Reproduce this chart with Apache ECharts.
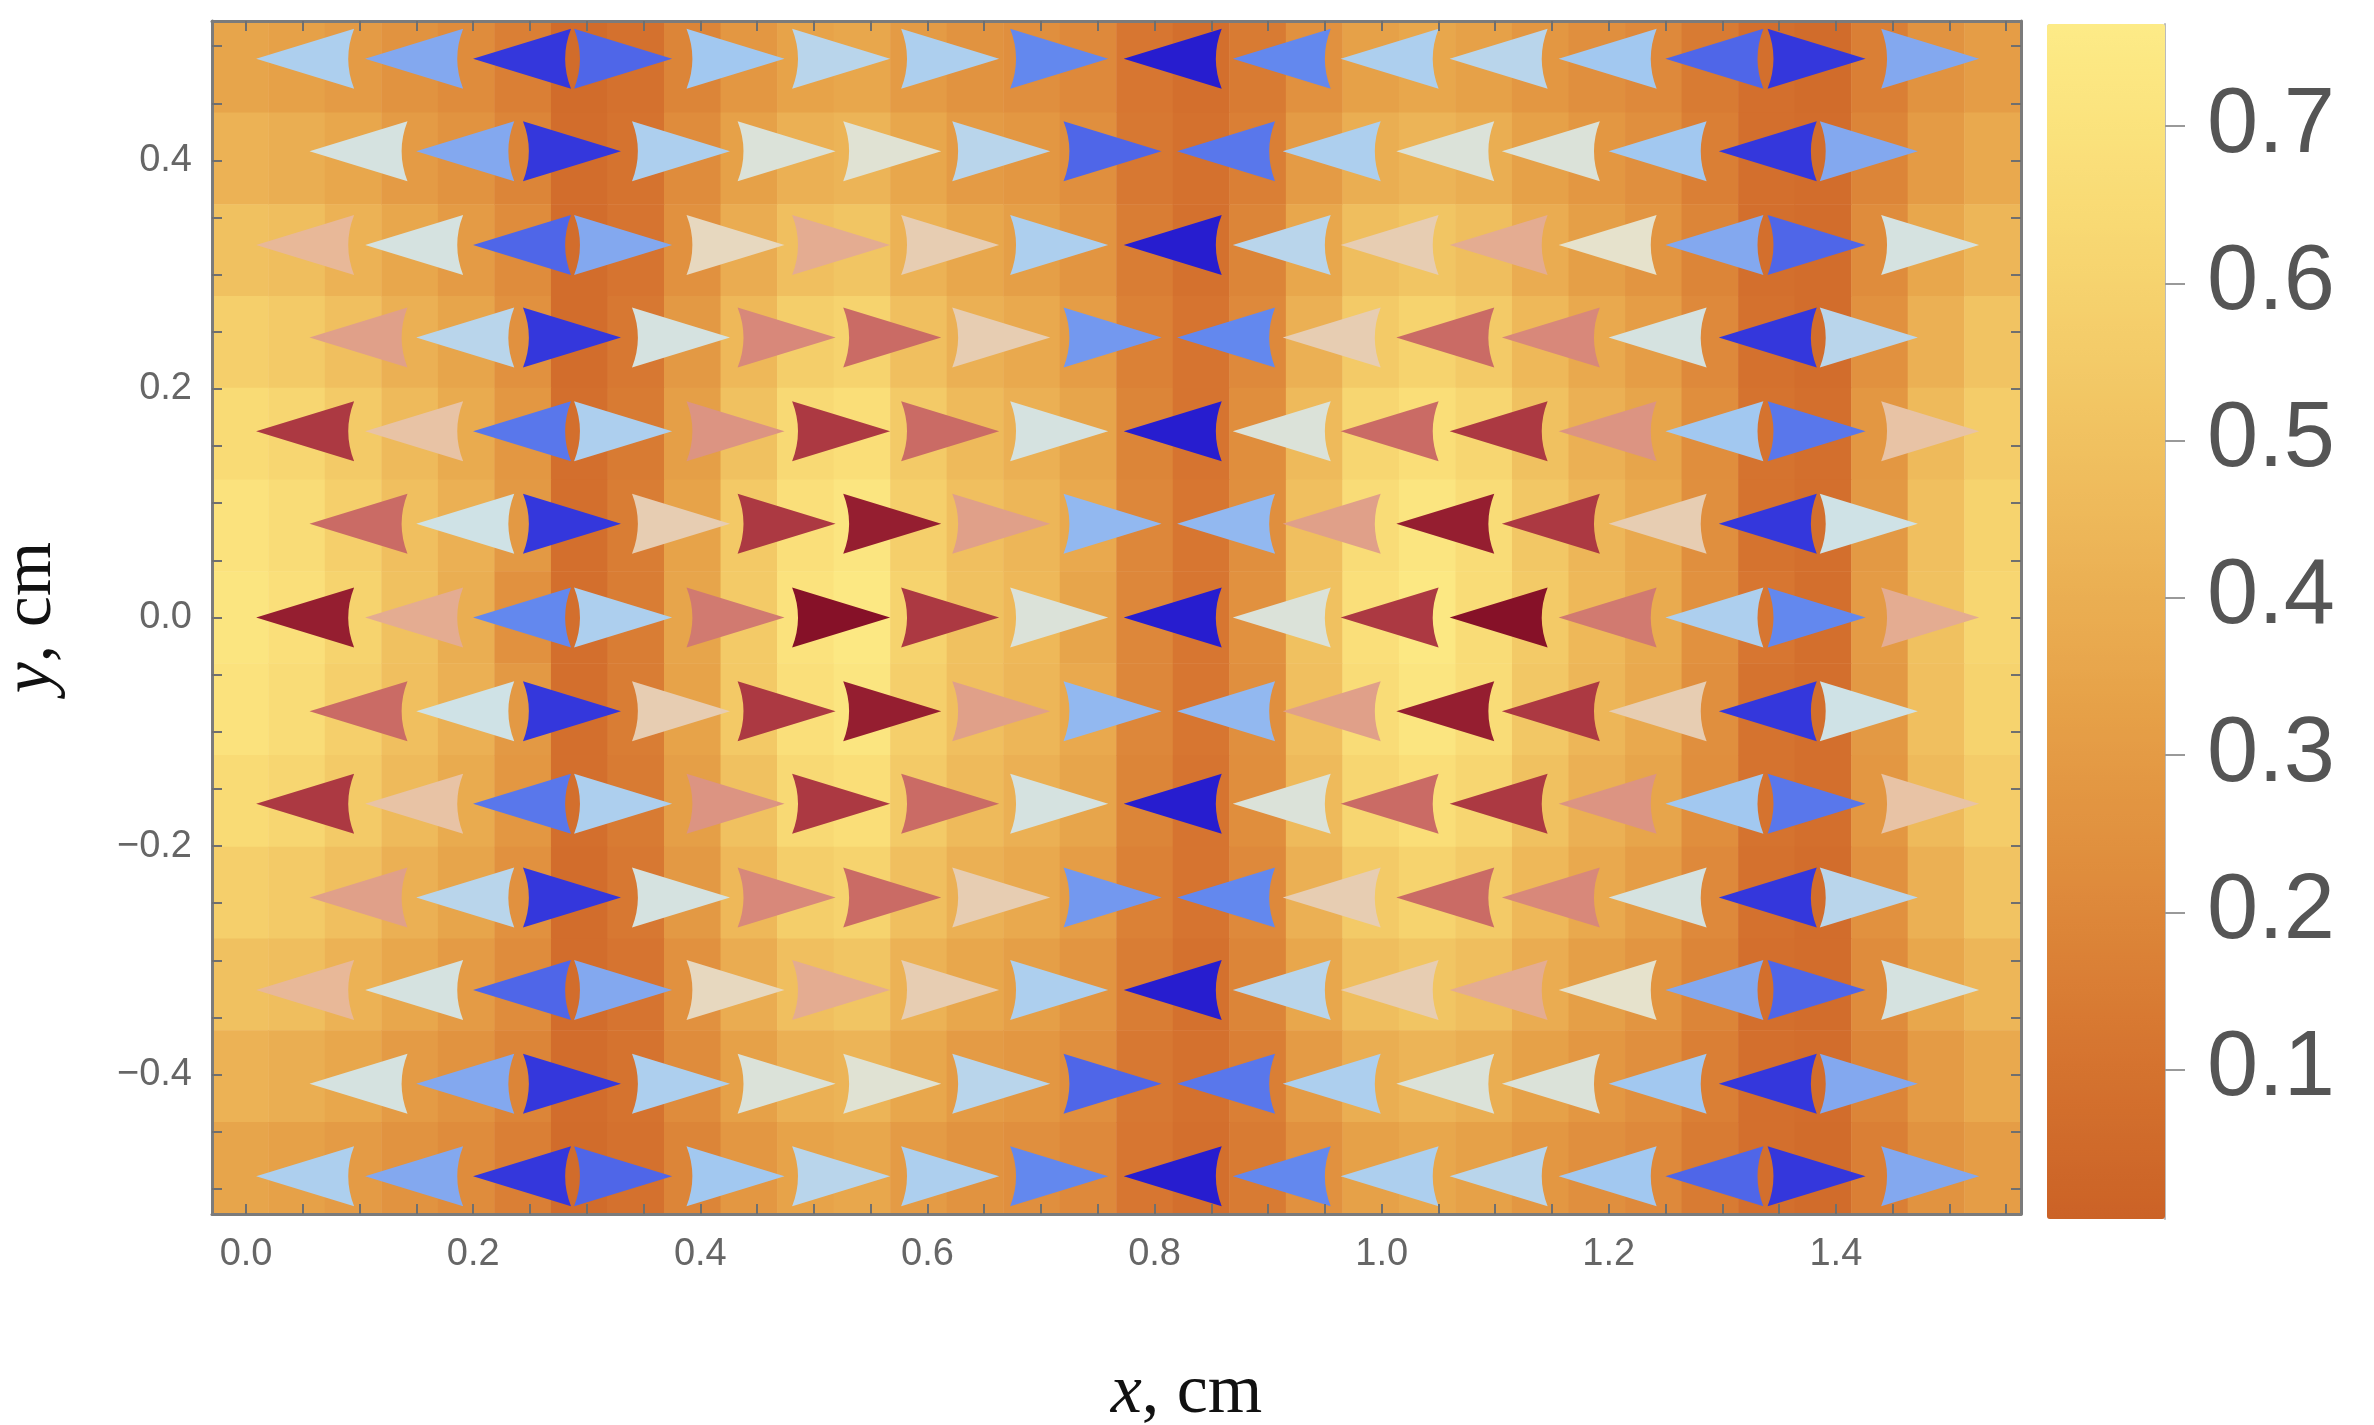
<!DOCTYPE html>
<html>
<head>
<meta charset="utf-8">
<script src="https://cdn.jsdelivr.net/npm/echarts@6/dist/echarts.min.js"></script>
<style>html,body{margin:0;background:#fff}#chart{width:2374px;height:1425px}</style>
</head>
<body>
<div id="chart"></div>
<script>
// arrow positions (cm)
const xsEven = [0.052,0.148,0.243,0.332,0.431,0.524,0.620,0.716,0.816,0.912,1.007,1.103,1.199,1.293,1.383,1.483]
const xsOdd = [0.099,0.193,0.287,0.383,0.476,0.569,0.665,0.763,0.863,0.956,1.056,1.149,1.243,1.340,1.429]
const rowY = [0.489,0.408,0.326,0.245,0.163,0.082,0,-0.082,-0.163,-0.245,-0.326,-0.408,-0.489]

// arrow colour value (-1 blue ... +1 red) and direction per row, top to bottom
const val6 = [-0.35,-0.5,-0.85,-0.7,-0.4,-0.3,-0.35,-0.6,-0.95,-0.6,-0.35,-0.3,-0.4,-0.7,-0.85,-0.5]
const val5 = [-0.15,-0.5,-0.85,-0.35,-0.1,-0.05,-0.3,-0.7,-0.65,-0.35,-0.1,-0.1,-0.4,-0.85,-0.5]
const val4 = [0.2,-0.15,-0.7,-0.5,0.05,0.25,0.1,-0.35,-0.95,-0.3,0.1,0.25,0.0,-0.5,-0.7,-0.15]
const val3 = [0.3,-0.3,-0.85,-0.15,0.4,0.5,0.1,-0.55,-0.6,0.1,0.5,0.4,-0.15,-0.85,-0.3]
const val2 = [0.7,0.15,-0.65,-0.35,0.35,0.7,0.5,-0.15,-0.95,-0.1,0.5,0.7,0.35,-0.4,-0.65,0.15]
const val1 = [0.5,-0.2,-0.85,0.1,0.7,0.85,0.3,-0.45,-0.45,0.3,0.85,0.7,0.1,-0.85,-0.2]
const val0 = [0.85,0.25,-0.6,-0.35,0.45,0.95,0.7,-0.1,-0.95,-0.1,0.7,0.95,0.45,-0.35,-0.6,0.25]
const dirEven = 'LLLRRRRRLLLLLLRR'
const dirOdd = 'LLRRRRRRLLLLLLR'
const rowVals = [val6,val5,val4,val3,val2,val1,val0,val1,val2,val3,val4,val5,val6]

// background density, 32 columns x 13 rows (top to bottom)
const bg6 = [0.35,0.33,0.30,0.26,0.22,0.16,0.06,0.09,0.19,0.28,0.34,0.36,0.30,0.26,0.24,0.21,0.12,0.08,0.14,0.25,0.33,0.36,0.33,0.28,0.24,0.21,0.14,0.08,0.06,0.16,0.26,0.31]
const bg5 = [0.42,0.40,0.36,0.30,0.26,0.19,0.07,0.10,0.22,0.33,0.41,0.43,0.36,0.30,0.28,0.24,0.13,0.09,0.16,0.30,0.40,0.43,0.40,0.33,0.28,0.24,0.16,0.08,0.07,0.19,0.30,0.37]
const bg4 = [0.50,0.48,0.42,0.36,0.30,0.22,0.07,0.11,0.25,0.39,0.49,0.52,0.42,0.36,0.32,0.27,0.15,0.09,0.19,0.36,0.48,0.52,0.48,0.39,0.32,0.27,0.19,0.08,0.07,0.22,0.36,0.44]
const bg3 = [0.58,0.55,0.49,0.41,0.35,0.25,0.07,0.13,0.29,0.45,0.57,0.60,0.49,0.41,0.37,0.31,0.17,0.11,0.21,0.41,0.55,0.60,0.55,0.45,0.37,0.31,0.21,0.09,0.07,0.25,0.41,0.51]
const bg2 = [0.65,0.62,0.55,0.46,0.38,0.28,0.08,0.14,0.32,0.50,0.64,0.67,0.55,0.46,0.41,0.35,0.19,0.11,0.23,0.46,0.62,0.67,0.62,0.50,0.41,0.35,0.23,0.10,0.08,0.28,0.46,0.56]
const bg1 = [0.70,0.66,0.58,0.49,0.41,0.29,0.08,0.15,0.34,0.54,0.68,0.72,0.58,0.49,0.44,0.37,0.20,0.12,0.24,0.49,0.66,0.72,0.66,0.53,0.44,0.37,0.24,0.10,0.08,0.29,0.49,0.60]
const bg0 = [0.72,0.68,0.60,0.50,0.40,0.25,0.08,0.15,0.35,0.55,0.70,0.74,0.60,0.50,0.45,0.35,0.20,0.12,0.25,0.50,0.68,0.74,0.66,0.55,0.45,0.38,0.25,0.12,0.08,0.30,0.50,0.62]
const bgRows = [bg6,bg5,bg4,bg3,bg2,bg1,bg0,bg1,bg2,bg3,bg4,bg5,bg6]

const xTicks = [0,0.2,0.4,0.6,0.8,1.0,1.2,1.4]
const yTicks = [-0.4,-0.2,0,0.2,0.4]
const barTicks = [0.1,0.2,0.3,0.4,0.5,0.6,0.7]

const arrows = []
rowVals.forEach((vals, r) => {
	const even = vals.length === 16
	const xs = even ? xsEven : xsOdd
	const dirs = even ? dirEven : dirOdd
	vals.forEach((v, i) => {
		arrows.push({ value: [xs[i], rowY[r], v], symbolRotate: dirs[i] === 'L' ? 180 : 0 })
	})
})

const heat = []
bgRows.forEach((row, r) => {
	row.forEach((v, i) => heat.push([i, 12 - r, v]))
})

const fine = (a, b, s) => { const o = []; for (let v = a; v <= b + 1e-9; v += s) o.push(+v.toFixed(3)); return o }
const xMinor = fine(0, 1.55, 0.05)
const yMinor = fine(-0.5, 0.5, 0.05)
const barMinor = fine(0.02, 0.76, 0.02)
const minus = v => (v < 0 ? '\u2212' + Math.abs(v).toFixed(1) : v.toFixed(1))

const GL = 212, GT = 21, GW = 1809, GH = 1193
const frame = { show: true, onZero: false, lineStyle: { color: '#7b7b7b', width: 3 } }
const tickSt = { show: true, inside: true, length: 10, lineStyle: { color: '#6f6f6f', width: 2 } }
const lab = { fontSize: 38, color: '#666', fontFamily: 'Liberation Sans' }
const titleSt = { fontSize: 70, fontFamily: 'Liberation Serif', color: '#111' }
const italic = { i: Object.assign({ fontStyle: 'italic' }, titleSt) }

const myChart = echarts.init(document.getElementById('chart'))
const option = {
	animation: false,
	grid: [
		{ left: GL, top: GT, width: GW, height: GH, outerBoundsMode: 'none', containLabel: false },
		{ left: 2047, top: 24, width: 118, height: 1195, outerBoundsMode: 'none', containLabel: false }
	],
	xAxis: [
		{ type: 'value', gridIndex: 0, z: 10, min: -0.03, max: 1.563, position: 'bottom', axisLine: frame,
			axisTick: Object.assign({ customValues: xMinor }, tickSt), splitLine: { show: false },
			axisLabel: Object.assign({ customValues: xTicks, formatter: minus, margin: 22 }, lab),
			name: '{i|x}, cm', nameLocation: 'middle', nameGap: 145,
			nameTextStyle: Object.assign({ padding: [0, 0, 0, 140], rich: italic }, titleSt) },
		{ type: 'value', gridIndex: 0, z: 10, min: -0.03, max: 1.563, position: 'top', axisLine: frame,
			axisTick: Object.assign({ customValues: xMinor }, tickSt), axisLabel: { show: false }, splitLine: { show: false } },
		{ type: 'category', gridIndex: 0, data: bg0.map((_, i) => String(i)), show: false },
		{ type: 'value', gridIndex: 1, show: false }
	],
	yAxis: [
		{ type: 'value', gridIndex: 0, z: 10, min: -0.522, max: 0.522, position: 'left', axisLine: frame,
			axisTick: Object.assign({ customValues: yMinor }, tickSt), splitLine: { show: false },
			axisLabel: Object.assign({ customValues: yTicks, formatter: minus, margin: 20 }, lab),
			name: '{i|y}, cm', nameLocation: 'middle', nameGap: 145, nameRotate: 90,
			nameTextStyle: Object.assign({ rich: italic }, titleSt) },
		{ type: 'value', gridIndex: 0, z: 10, min: -0.522, max: 0.522, position: 'right', axisLine: frame,
			axisTick: Object.assign({ customValues: yMinor }, tickSt), axisLabel: { show: false }, splitLine: { show: false } },
		{ type: 'category', gridIndex: 0, data: rowY.map(String), show: false },
		{ type: 'value', gridIndex: 1, min: 0.005, max: 0.765, position: 'right',
			axisLine: { show: true, onZero: false, lineStyle: { color: '#bbb', width: 2 } },
			axisTick: { show: true, length: 20, customValues: barTicks, lineStyle: { color: '#999', width: 2 } },
			axisLabel: { customValues: barTicks, formatter: v => v.toFixed(1), fontSize: 92, color: '#555', margin: 42, fontFamily: 'Liberation Sans' },
			splitLine: { show: false } },
		{ type: 'value', gridIndex: 1, min: 0.005, max: 0.765, position: 'right',
			axisLine: { show: false }, axisLabel: { show: false }, splitLine: { show: false },
			axisTick: { show: true, length: 10, customValues: barMinor, lineStyle: { color: '#bbb', width: 2 } } }
	],
	visualMap: [
		{ type: 'continuous', seriesIndex: 0, min: 0.005, max: 0.765, orient: 'vertical',
			left: 2047, top: 24, itemWidth: 118, itemHeight: 1195, padding: 0, calculable: false, text: null, showLabel: false,
			inRange: { color: ['#cb6226','#d67530','#df8c3c','#e6a148','#edb658','#f3ca67','#f9dc76','#fdeb87'] } },
		{ type: 'continuous', seriesIndex: 1, dimension: 2, min: -1, max: 1, show: false,
			inRange: { color: ['#2010c8','#3a44e2','#6388ee','#a2c8f0','#cfe2e6','#e6e2cc','#e8b898','#d8887a','#bc4e50','#9c2434','#7e0a24'] } }
	],
	series: [
		{ type: 'heatmap', xAxisIndex: 2, yAxisIndex: 2, data: heat, itemStyle: { borderWidth: 0 } },
		{ type: 'scatter', xAxisIndex: 0, yAxisIndex: 0, data: arrows, z: 5,
			itemStyle: { opacity: 1 },
			symbol: 'path://M100,50 L0,0 Q12,50 0,100 Z', symbolKeepAspect: false, symbolSize: [98, 60] }
	]
}
myChart.setOption(option)
</script>
</body>
</html>
